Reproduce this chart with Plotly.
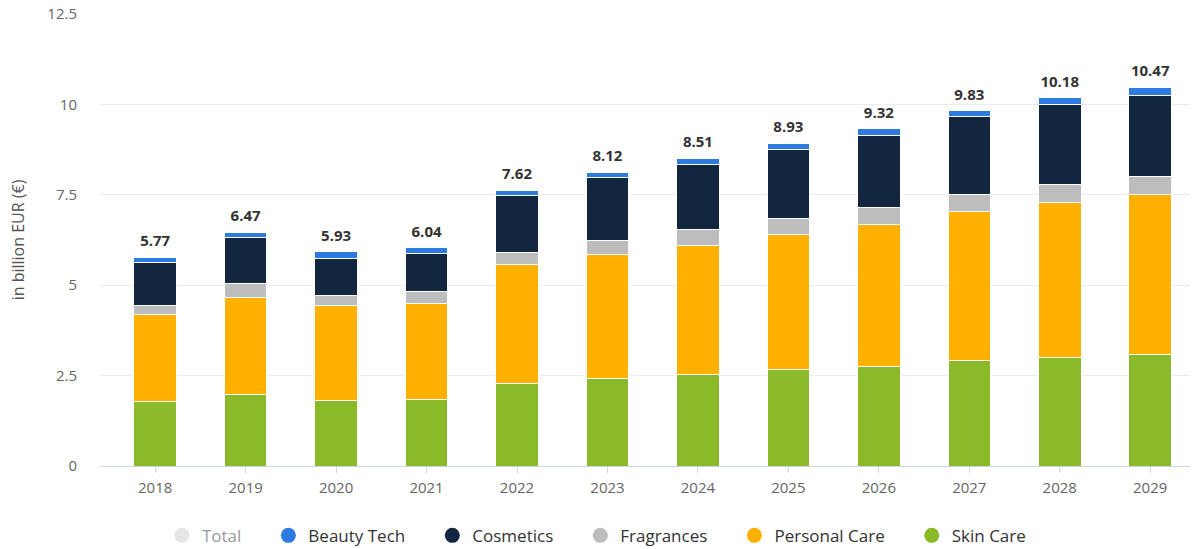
import plotly.graph_objects as go

# Data (billion EUR)
years = ["2018", "2019", "2020", "2021", "2022", "2023", "2024", "2025", "2026", "2027", "2028", "2029"]
skin_care = [1.78, 1.98, 1.81, 1.83, 2.27, 2.41, 2.54, 2.67, 2.75, 2.91, 3.01, 3.07]
personal_care = [2.40, 2.69, 2.62, 2.67, 3.29, 3.43, 3.57, 3.72, 3.94, 4.12, 4.27, 4.43]
fragrances = [0.27, 0.38, 0.28, 0.32, 0.34, 0.41, 0.44, 0.46, 0.47, 0.49, 0.51, 0.52]
cosmetics = [1.18, 1.28, 1.04, 1.06, 1.57, 1.73, 1.78, 1.89, 1.97, 2.14, 2.20, 2.24]
beauty_tech = [0.14, 0.14, 0.18, 0.16, 0.15, 0.14, 0.18, 0.19, 0.19, 0.17, 0.19, 0.21]
totals = [5.77, 6.47, 5.93, 6.04, 7.62, 8.12, 8.51, 8.93, 9.32, 9.83, 10.18, 10.47]

series = [
    ("Skin Care", skin_care, "#8ab92a"),
    ("Personal Care", personal_care, "#ffb000"),
    ("Fragrances", fragrances, "#bdbdbd"),
    ("Cosmetics", cosmetics, "#12263f"),
    ("Beauty Tech", beauty_tech, "#2d7be0"),
]

fig = go.Figure()

# stacked bars
for name, vals, col in series:
    fig.add_trace(go.Bar(x=years, y=vals, name=name, showlegend=False,
                         marker=dict(color=col, line=dict(color="white", width=1)),
                         width=0.47))

# total labels above the stacks (invisible marker gives the gap)
fig.add_trace(go.Scatter(x=years, y=totals, mode="markers+text", showlegend=False,
                         marker=dict(size=10, opacity=0),
                         text=["<b>%.2f</b>" % t for t in totals],
                         textposition="top center", cliponaxis=False, hoverinfo="skip",
                         textfont=dict(size=15, color="#333333", family="Open Sans")))

# legend entries with round markers (order as in reference)
pad = "\u00a0" * 5
legend_items = [("Total", "#cccccc")] + [(n, c) for n, _, c in reversed(series)]
for i, (name, col) in enumerate(legend_items):
    label = name if i == len(legend_items) - 1 else name + pad
    fig.add_trace(go.Scatter(x=[years[0]], y=[None], mode="markers", name=label,
                             marker=dict(symbol="circle", size=15, color=col),
                             visible="legendonly" if name == "Total" else True))

fig.update_layout(
    barmode="stack",
    width=1200, height=549,
    margin=dict(l=100, r=10, t=14, b=83),
    plot_bgcolor="white", paper_bgcolor="white",
    font=dict(family="Open Sans", color="#666666", size=15),
    legend=dict(orientation="h", xref="container", x=0.497, xanchor="center",
                yref="container", y=0.024, yanchor="middle",
                font=dict(size=17, color="#333333"), itemwidth=30,
                traceorder="normal"),
    xaxis=dict(type="category", range=[-0.61, 11.44], showgrid=False, showline=True,
               linecolor="#ccd6eb", linewidth=1, ticks="outside", ticklen=6,
               tickcolor="#ccd6eb", tickfont=dict(size=15, color="#666666"),
               ticklabelstandoff=2, automargin=False),
    yaxis=dict(range=[0, 12.5], tickvals=[0, 2.5, 5, 7.5, 10, 12.5],
               ticktext=["0", "2.5", "5", "7.5", "10", "12.5"],
               showgrid=True, gridcolor="#ececec", gridwidth=1, zeroline=False,
               tickfont=dict(size=15, color="#666666"), ticklabelstandoff=22,
               automargin=False,
               title=dict(text="in billion EUR (€)", font=dict(size=16, color="#555555"),
                          standoff=18)),
)

fig.write_html("out.html", config={"displayModeBar": False},
               post_script="document.body.style.margin='0';")
